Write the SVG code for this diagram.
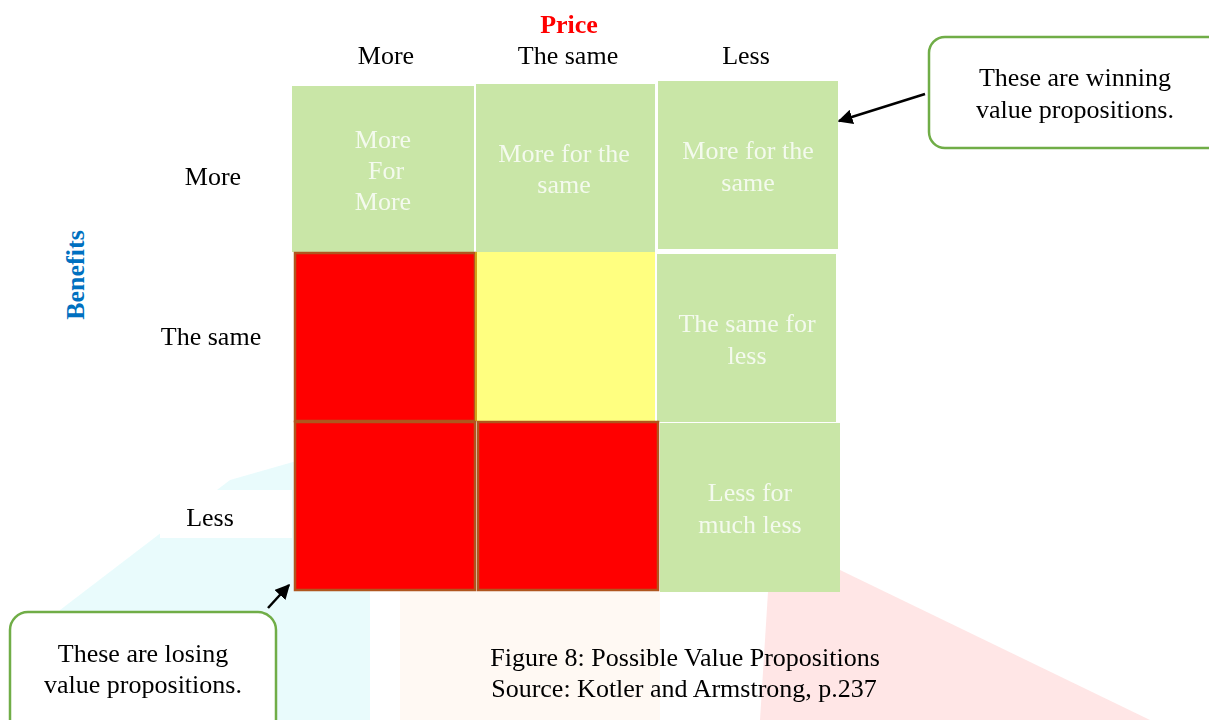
<svg xmlns="http://www.w3.org/2000/svg" width="1209" height="720" viewBox="0 0 1209 720">
<defs>
<style>
text{font-family:"Liberation Serif","Times New Roman",serif;font-size:26px;fill:#000}
.c{text-anchor:middle}
.w{fill:#f4faee;text-anchor:middle}
.g{fill:#c9e6a7}
.r{fill:#ff0000;stroke:#b0561e;stroke-width:2.5}
.box{fill:#fff;stroke:#70ad47;stroke-width:2.5}
.arr{stroke:#000;stroke-width:2.5;fill:none;marker-end:url(#ah)}
</style>
<marker id="ah" viewBox="0 0 10 10" refX="9" refY="5" markerWidth="6" markerHeight="6" orient="auto" markerUnits="strokeWidth">
<path d="M0,0 L10,5 L0,10 z" fill="#000"/>
</marker>
</defs>
<rect width="1209" height="720" fill="#fff"/>
<g id="watermark" opacity="0.4">
<path d="M60,610 L230,480 L300,460 L370,470 L370,720 L40,720 Z" fill="#c8f6f8"/>
<path d="M400,560 L660,560 L660,720 L400,720 Z" fill="#ffe6cc" opacity="0.6"/>
<path d="M770,560 L840,570 L1150,720 L760,720 Z" fill="#ffc0c0"/>
<rect x="160" y="490" width="132" height="48" fill="#fff"/>
</g>
<g id="axes">
<text class="c" x="569" y="33" style="fill:#ff0000;font-weight:bold">Price</text>
<text class="c" x="386" y="64">More</text>
<text class="c" x="568" y="64">The same</text>
<text class="c" x="746" y="64">Less</text>
<text class="c" x="213" y="185">More</text>
<text class="c" x="211" y="345">The same</text>
<text class="c" x="210" y="526">Less</text>
<text class="c" transform="translate(84,275) rotate(-90)" style="fill:#0070c0;font-weight:bold">Benefits</text>
</g>
<g id="cell-more-more">
<rect class="g" x="292" y="86" width="182" height="166"/>
<text class="w" x="383" y="148">More</text>
<text class="w" x="386" y="179">For</text>
<text class="w" x="383" y="210">More</text>
</g>
<g id="cell-more-same">
<rect class="g" x="476" y="84" width="179" height="168"/>
<text class="w" x="564" y="162">More for the</text>
<text class="w" x="564" y="193">same</text>
</g>
<g id="cell-more-less">
<rect class="g" x="658" y="81" width="180" height="168"/>
<text class="w" x="748" y="159">More for the</text>
<text class="w" x="748" y="191">same</text>
</g>
<g id="cell-same-more">
<rect class="r" x="295" y="253" width="180" height="168"/>
</g>
<g id="cell-same-same">
<rect x="476" y="252" width="179" height="169" fill="#ffff80"/>
<line x1="476" y1="252" x2="476" y2="421" stroke="#d4a017" stroke-width="2"/>
</g>
<g id="cell-same-less">
<rect class="g" x="657" y="254" width="179" height="168"/>
<text class="w" x="747" y="332">The same for</text>
<text class="w" x="747" y="364">less</text>
</g>
<g id="cell-less-more">
<rect class="r" x="295" y="422" width="180" height="168"/>
</g>
<g id="cell-less-same">
<rect class="r" x="478" y="422" width="180" height="168"/>
</g>
<g id="cell-less-less">
<rect class="g" x="660" y="423" width="180" height="169"/>
<text class="w" x="750" y="501">Less for</text>
<text class="w" x="750" y="533">much less</text>
</g>
<g id="callout-winning">
<rect class="box" x="929" y="37" width="300" height="111" rx="16"/>
<text class="c" x="1075" y="86">These are winning</text>
<text class="c" x="1075" y="118">value propositions.</text>
</g>
<g id="callout-losing">
<rect class="box" x="10" y="612" width="266" height="140" rx="18"/>
<text class="c" x="143" y="662">These are losing</text>
<text class="c" x="143" y="693">value propositions.</text>
</g>
<g id="caption">
<text class="c" x="685" y="666">Figure 8: Possible Value Propositions</text>
<text class="c" x="684" y="697">Source: Kotler and Armstrong, p.237</text>
</g>
<g id="connectors">
<line class="arr" x1="925" y1="94" x2="839" y2="121"/>
<line class="arr" x1="268" y1="608" x2="289" y2="585"/>
</g>
</svg>
